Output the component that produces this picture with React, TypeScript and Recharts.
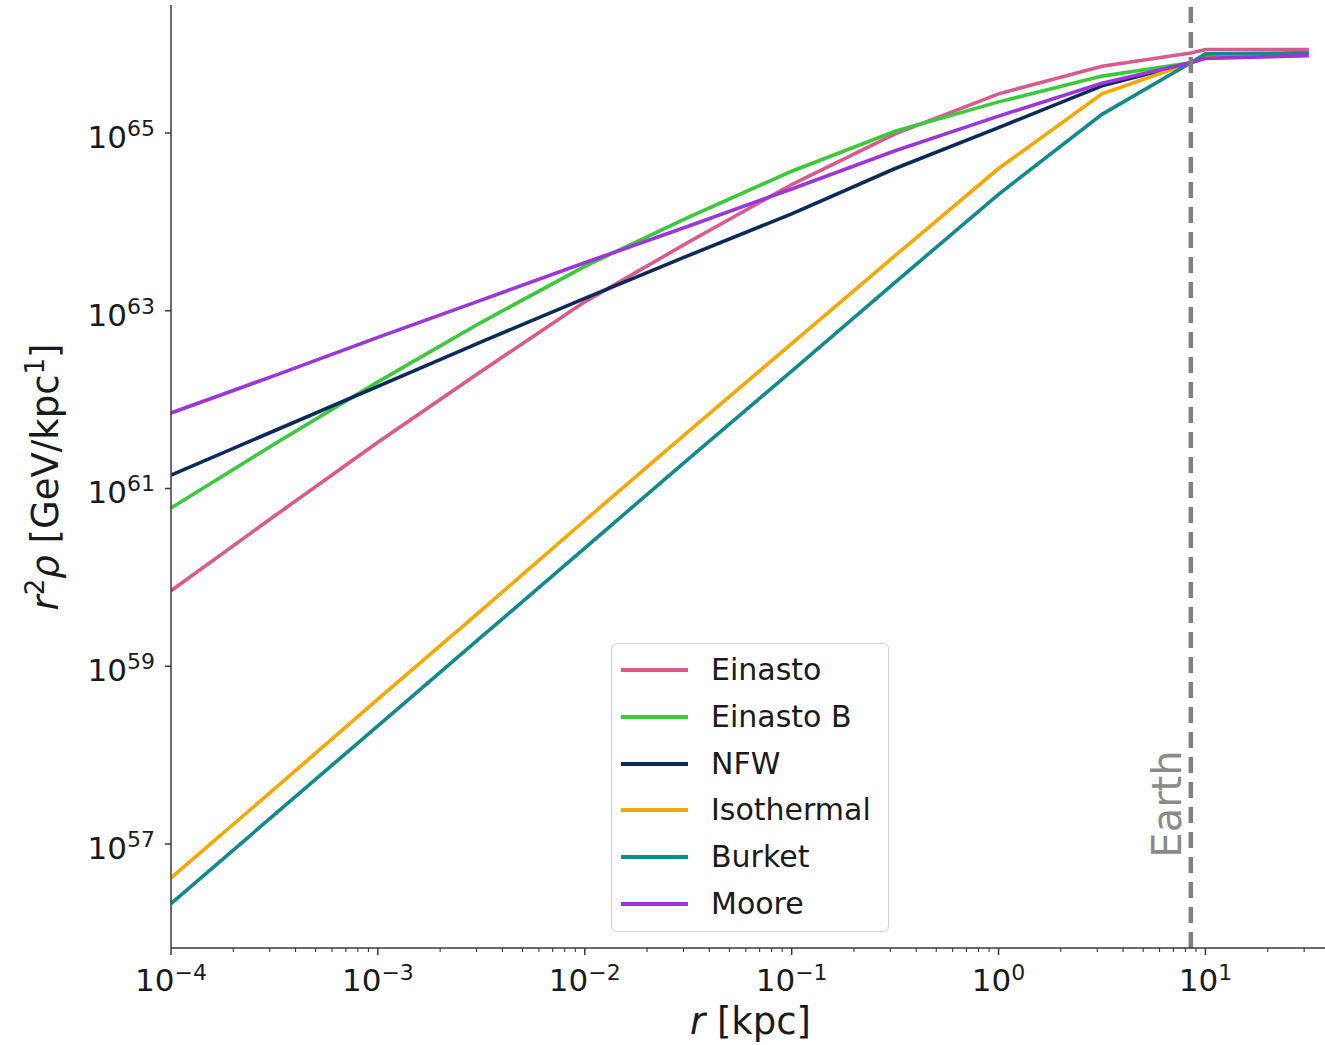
import React from 'react';
import { LineChart, Line, XAxis, YAxis, ReferenceLine, Legend } from 'recharts';

// radius sample points [kpc]
const radiusKpc = [1e-4, 3.162e-4, 1e-3, 3.162e-3, 1e-2, 3.162e-2, 0.1, 0.3162, 1, 3.162, 8.5, 10, 31.62];

// log10 of r^2 rho [GeV/kpc]
const einastoExp = [59.85, 60.69, 61.52, 62.32, 63.1, 63.77, 64.42, 64.99, 65.44, 65.75, 65.9, 65.94, 65.94];
const einastoBExp = [60.78, 61.5, 62.2, 62.87, 63.5, 64.05, 64.57, 65.02, 65.35, 65.64, 65.79, 65.87, 65.9];
const nfwExp = [61.15, 61.65, 62.15, 62.65, 63.14, 63.62, 64.09, 64.6, 65.06, 65.53, 65.79, 65.87, 65.9];
const isothermalExp = [56.62, 57.62, 58.63, 59.63, 60.64, 61.64, 62.63, 63.62, 64.6, 65.44, 65.79, 65.87, 65.9];
const burketExp = [56.33, 57.33, 58.33, 59.33, 60.33, 61.33, 62.32, 63.32, 64.31, 65.21, 65.79, 65.89, 65.9];
const mooreExp = [61.85, 62.27, 62.7, 63.12, 63.54, 63.95, 64.37, 64.8, 65.19, 65.56, 65.79, 65.84, 65.87];

const seriesNames = ['Einasto', 'Einasto B', 'NFW', 'Isothermal', 'Burket', 'Moore'];
const seriesColors = ['#DA5A8B', '#3CC83C', '#0B2A5B', '#F5A800', '#108A8C', '#9B36D9'];
const seriesExps = [einastoExp, einastoBExp, nfwExp, isothermalExp, burketExp, mooreExp];

const yTickExponents = [57, 59, 61, 63, 65];
const xMajorExponents = [-4, -3, -2, -1, 0, 1];
const xMax = 40;
const yMinExp = 55.83;
const yMaxExp = 66.44;
const earthKpc = 8.5;

const FONT = "'DejaVu Sans', 'Liberation Sans', sans-serif";
const SPINE = '#383838';

const data = radiusKpc.map((r, i) => {
  const row: any = { r };
  seriesNames.forEach((n, j) => {
    row[n] = Math.pow(10, seriesExps[j][i]);
  });
  return row;
});

const xTicks: number[] = [];
xMajorExponents.forEach((e) => {
  for (let k = 1; k <= 9; k++) {
    const v = k * Math.pow(10, e);
    if (v <= xMax * 1.0001) xTicks.push(v);
  }
});
const yTicks = yTickExponents.map((e) => Math.pow(10, e));

const expLabel = (n: number) => (n < 0 ? '\u2212' + Math.abs(n) : String(n));

const XTick = (props: any) => {
  const { x, y, payload } = props;
  const le = Math.log10(payload.value);
  const major = Math.abs(le - Math.round(le)) < 1e-6;
  return (
    <g>
      <line x1={x} x2={x} y1={y} y2={y + (major ? 7 : 4)} stroke={SPINE} strokeWidth={major ? 1.5 : 1.1} />
      {major && (
        <text x={x} y={y + 43} textAnchor="middle" fontFamily={FONT} fontSize={31} fill="#1a1a1a">
          <tspan>10</tspan>
          <tspan dy={-11} fontSize={22}>{expLabel(Math.round(le))}</tspan>
        </text>
      )}
    </g>
  );
};

const YTick = (props: any) => {
  const { x, y, payload } = props;
  const le = Math.round(Math.log10(payload.value));
  return (
    <g>
      <line x1={x - 6} x2={x} y1={y} y2={y} stroke={SPINE} strokeWidth={1.5} />
      <text x={x - 16} y={y + 15} textAnchor="end" fontFamily={FONT} fontSize={31} fill="#1a1a1a">
        <tspan>10</tspan>
        <tspan dy={-12} fontSize={22}>{expLabel(le)}</tspan>
      </text>
    </g>
  );
};

const XLabel = (props: any) => {
  const vb = props.viewBox || { x: 171, width: 1159, y: 948 };
  const cx = vb.x + vb.width / 2;
  return (
    <text x={cx} y={1034} textAnchor="middle" fontFamily={FONT} fontSize={37} fill="#1a1a1a">
      <tspan fontStyle="italic">r</tspan>
      <tspan> [kpc]</tspan>
    </text>
  );
};

const YLabel = () => {
  const cx = 58;
  const cy = 477;
  return (
    <text
      x={cx}
      y={cy}
      textAnchor="middle"
      fontFamily={FONT}
      fontSize={37}
      fill="#1a1a1a"
      transform={`rotate(-90, ${cx}, ${cy})`}
    >
      <tspan fontStyle="italic">r</tspan>
      <tspan dy={-14} fontSize={26}>2</tspan>
      <tspan dy={14} fontStyle="italic">{'\u03C1'}</tspan>
      <tspan>{' [GeV/kpc'}</tspan>
      <tspan dy={-14} fontSize={26}>1</tspan>
      <tspan dy={14}>]</tspan>
    </text>
  );
};

const EarthLabel = (props: any) => {
  const vb = props.viewBox || { x: 1190 };
  const tx = vb.x - 10;
  const ty = 804;
  return (
    <text
      x={tx}
      y={ty}
      textAnchor="middle"
      fontFamily={FONT}
      fontSize={40}
      fill="#8a8a8a"
      transform={`rotate(-90, ${tx}, ${ty})`}
    >
      Earth
    </text>
  );
};

const LegendBox = () => (
  <div
    style={{
      width: 278,
      height: 289,
      boxSizing: 'border-box',
      border: '1.3px solid #cfcfcf',
      borderRadius: 6,
      background: 'rgba(255,255,255,0.85)',
      paddingTop: 3,
      fontFamily: FONT,
    }}
  >
    {seriesNames.map((n, i) => (
      <div key={n} style={{ height: 46.7, display: 'flex', alignItems: 'center' }}>
        <div style={{ width: 67, height: 4, marginLeft: 9, background: seriesColors[i] }} />
        <span style={{ marginLeft: 23, fontSize: 30, color: '#1a1a1a', lineHeight: '30px' }}>{n}</span>
      </div>
    ))}
  </div>
);

export default function App() {
  return (
    <div
      style={{
        position: 'absolute',
        left: 0,
        top: 0,
        width: 1325,
        height: 1045,
        overflow: 'hidden',
        background: '#fff',
      }}
    >
      <LineChart width={1340} height={1045} data={data} margin={{ top: 5, right: 10, bottom: 0, left: 0 }}>
        <XAxis
          dataKey="r"
          type="number"
          scale="log"
          domain={[1e-4, xMax]}
          allowDataOverflow
          ticks={xTicks}
          interval={0}
          tick={<XTick />}
          tickLine={false}
          tickSize={0}
          tickMargin={0}
          height={97}
          axisLine={{ stroke: SPINE, strokeWidth: 1.5 }}
          label={<XLabel />}
        />
        <XAxis
          xAxisId="top"
          dataKey="r"
          type="number"
          scale="log"
          domain={[1e-4, xMax]}
          allowDataOverflow
          orientation="top"
          height={0}
          tick={false}
          tickLine={false}
          axisLine={{ stroke: SPINE, strokeWidth: 1.5 }}
        />
        <YAxis
          type="number"
          scale="log"
          domain={[Math.pow(10, yMinExp), Math.pow(10, yMaxExp)]}
          allowDataOverflow
          ticks={yTicks}
          interval={0}
          tick={<YTick />}
          tickLine={false}
          tickSize={0}
          tickMargin={0}
          width={171}
          axisLine={{ stroke: SPINE, strokeWidth: 1.5 }}
          label={<YLabel />}
        />
        {seriesNames.map((n, i) => (
          <Line
            key={n}
            dataKey={n}
            type="linear"
            stroke={seriesColors[i]}
            strokeWidth={3.6}
            dot={false}
            activeDot={false}
            isAnimationActive={false}
          />
        ))}
        <ReferenceLine
          x={earthKpc}
          stroke="#808080"
          strokeWidth={4.5}
          strokeDasharray="16 9"
          label={<EarthLabel />}
        />
        <Legend
          layout="vertical"
          align="center"
          verticalAlign="middle"
          content={<LegendBox />}
          wrapperStyle={{ position: 'absolute', left: 611, top: 643, width: 278, height: 289 }}
        />
      </LineChart>
    </div>
  );
}
